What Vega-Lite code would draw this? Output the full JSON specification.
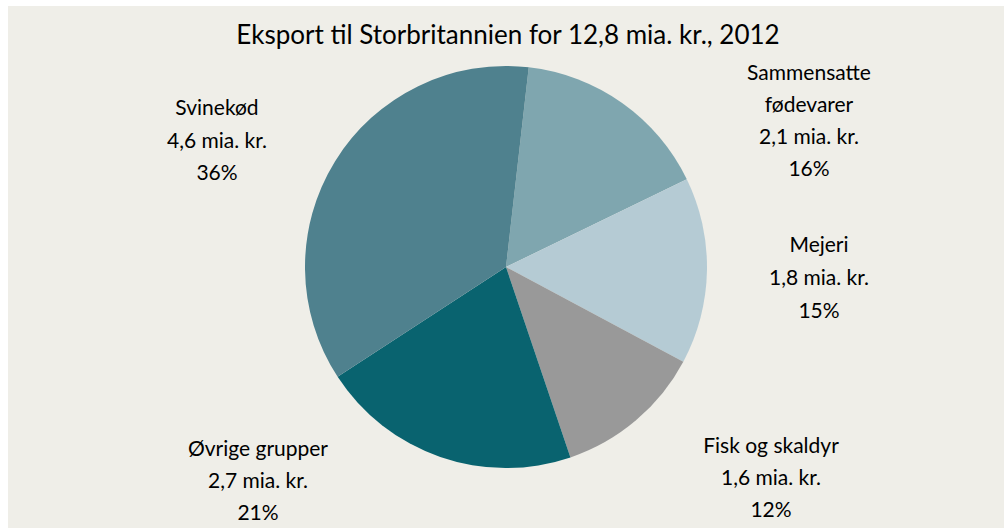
{
  "$schema": "https://vega.github.io/schema/vega-lite/v6.json",
  "width": 1006,
  "height": 528,
  "autosize": {"type": "fit", "contains": "padding"},
  "padding": {"left": 8, "top": 6, "right": 2, "bottom": 0},
  "background": "#ffffff",
  "view": {"fill": "#efeee8", "stroke": null},
  "data": {
    "values": [
      {"gruppe": "Sammensatte fødevarer", "mia": 2.1, "pct": 16, "rank": 1, "label": ["Sammensatte", "fødevarer", "2,1 mia. kr.", "16%"]},
      {"gruppe": "Mejeri", "mia": 1.8, "pct": 15, "rank": 2, "label": ["Mejeri", "1,8 mia. kr.", "15%"]},
      {"gruppe": "Fisk og skaldyr", "mia": 1.6, "pct": 12, "rank": 3, "label": ["Fisk og skaldyr", "1,6 mia. kr.", "12%"]},
      {"gruppe": "Øvrige grupper", "mia": 2.7, "pct": 21, "rank": 4, "label": ["Øvrige grupper", "2,7 mia. kr.", "21%"]},
      {"gruppe": "Svinekød", "mia": 4.6, "pct": 36, "rank": 5, "label": ["Svinekød", "4,6 mia. kr.", "36%"]}
    ]
  },
  "layer": [
    {
      "mark": {"type": "arc", "outerRadius": 201},
      "encoding": {
        "theta": {"field": "pct", "type": "quantitative", "stack": true, "scale": {"range": [0.1134, 6.3966]}},
        "order": {"field": "rank", "type": "quantitative"},
        "color": {
          "field": "gruppe",
          "type": "nominal",
          "legend": null,
          "scale": {
            "domain": ["Sammensatte fødevarer", "Mejeri", "Fisk og skaldyr", "Øvrige grupper", "Svinekød"],
            "range": ["#7fa6af", "#b5cbd4", "#999999", "#09636f", "#4f818e"]
          }
        }
      }
    },
    {
      "transform": [{"filter": "datum.rank == 1"}],
      "mark": {"type": "text", "font": "Lato", "fontSize": 26, "align": "center", "baseline": "alphabetic", "color": "#000000", "dx": 2, "dy": -223},
      "encoding": {"text": {"value": "Eksport til Storbritannien for 12,8 mia. kr., 2012"}}
    },
    {
      "transform": [{"filter": "datum.rank == 5"}],
      "mark": {"type": "text", "font": "Lato", "fontSize": 21, "lineHeight": 32.5, "align": "center", "baseline": "alphabetic", "color": "#000000", "dx": -289, "dy": -152},
      "encoding": {"text": {"field": "label"}}
    },
    {
      "transform": [{"filter": "datum.rank == 1"}],
      "mark": {"type": "text", "font": "Lato", "fontSize": 21, "lineHeight": 32, "align": "center", "baseline": "alphabetic", "color": "#000000", "dx": 303, "dy": -187},
      "encoding": {"text": {"field": "label"}}
    },
    {
      "transform": [{"filter": "datum.rank == 2"}],
      "mark": {"type": "text", "font": "Lato", "fontSize": 21, "lineHeight": 33, "align": "center", "baseline": "alphabetic", "color": "#000000", "dx": 313, "dy": -15},
      "encoding": {"text": {"field": "label"}}
    },
    {
      "transform": [{"filter": "datum.rank == 3"}],
      "mark": {"type": "text", "font": "Lato", "fontSize": 21, "lineHeight": 32, "align": "center", "baseline": "alphabetic", "color": "#000000", "dx": 265, "dy": 186},
      "encoding": {"text": {"field": "label"}}
    },
    {
      "transform": [{"filter": "datum.rank == 4"}],
      "mark": {"type": "text", "font": "Lato", "fontSize": 21, "lineHeight": 32, "align": "center", "baseline": "alphabetic", "color": "#000000", "dx": -248, "dy": 189},
      "encoding": {"text": {"field": "label"}}
    }
  ]
}
